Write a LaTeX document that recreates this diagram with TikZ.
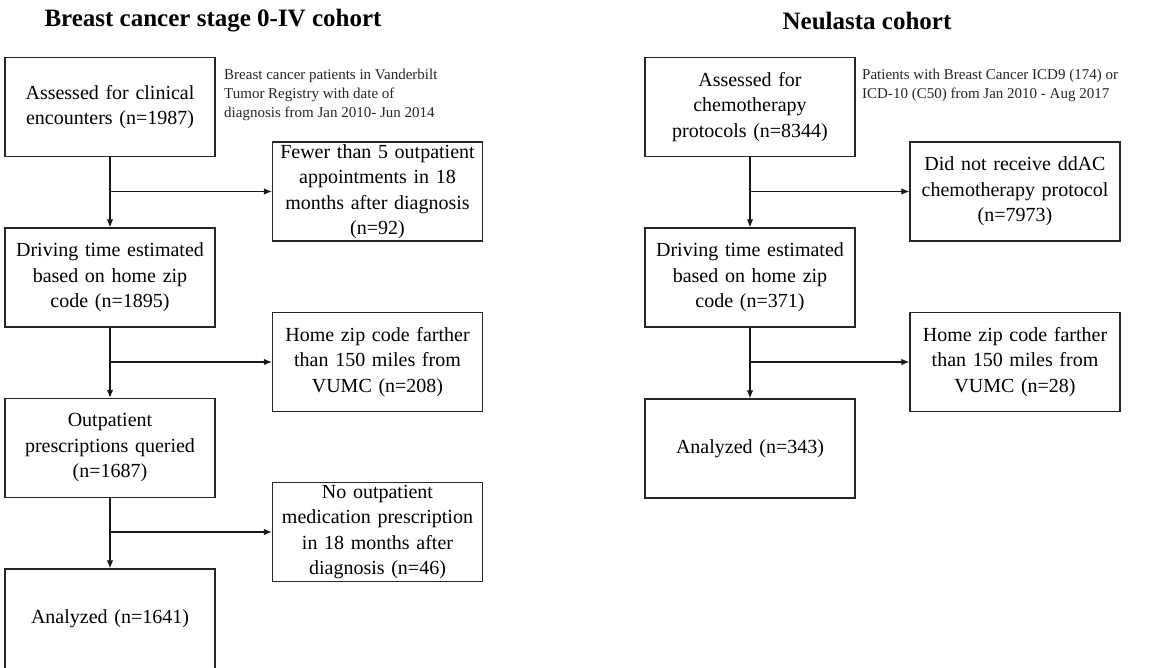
\documentclass[tikz,border=0pt]{standalone}
\usepackage{fontspec}
\setmainfont{Liberation Serif}
\usetikzlibrary{arrows.meta}
\begin{document}
\begin{tikzpicture}[x=1pt,y=-1pt,
  box/.style={draw=black!85, line width=1.3pt, minimum width=210pt, minimum height=99pt, inner sep=0pt, text width=204pt, align=center, font=\fontsize{20}{25.5}\selectfont},
  note/.style={inner sep=0pt, align=left, anchor=west, font=\fontsize{15}{19}\selectfont, text=black!85},
  ttl/.style={inner sep=0pt, font=\fontsize{25}{30}\selectfont\bfseries},
  arr/.style={line width=1.1pt, black!90, -{Latex[length=8pt,width=6.5pt]}}]
\clip (0,0) rectangle (1165,667);
\fill[white] (0,0) rectangle (1165,667);
\node[ttl] (t1) at (213,21) {Breast cancer stage 0-IV cohort};
\node[ttl] (t2) at (867,21) {Neulasta cohort};

\node[box] (A1) at (110,107) {Assessed for clinical\\ encounters (n=1987)};
\node[box] (A2) at (110,277.5) {Driving time estimated\\ based on home zip\\ code (n=1895)};
\node[box] (A3) at (110,448) {Outpatient\\ prescriptions queried\\ (n=1687)};
\node[box, minimum height=112pt] (A4) at (110,625) {\raisebox{16pt}{Analyzed (n=1641)}};
\node[box] (B1) at (377.5,191.5) {Fewer than 5 outpatient\\ appointments in 18\\ months after diagnosis\\ (n=92)};
\node[box] (B2) at (377.5,362) {Home zip code farther\\ than 150 miles from\\ VUMC (n=208)};
\node[box] (B3) at (377.5,532) {No outpatient\\ medication prescription\\ in 18 months after\\ diagnosis (n=46)};
\node[note] (n1) at (224,95) {Breast cancer patients in Vanderbilt\\ Tumor Registry with date of\\ diagnosis from Jan 2010- Jun 2014};

\node[box] (C1) at (750,107) {Assessed for\\ chemotherapy\\ protocols (n=8344)};
\node[box] (C2) at (750,277.5) {Driving time estimated\\ based on home zip\\ code (n=371)};
\node[box] (C3) at (750,448.5) {Analyzed (n=343)};
\node[box] (D1) at (1015,191.5) {Did not receive ddAC\\ chemotherapy protocol\\ (n=7973)};
\node[box] (D2) at (1015,362) {Home zip code farther\\ than 150 miles from\\ VUMC (n=28)};
\node[note] (n2) at (862,85.5) {Patients with Breast Cancer ICD9 (174) or\\ ICD-10 (C50) from Jan 2010 - Aug 2017};

\draw[arr] (A1.south) -- (A2.north);
\draw[arr] (A2.south) -- (A3.north);
\draw[arr] (A3.south) -- (A4.north);
\draw[arr] (A1.south |- B1.west) -- (B1.west);
\draw[arr] (A2.south |- B2.west) -- (B2.west);
\draw[arr] (A3.south |- B3.west) -- (B3.west);
\draw[arr] (C1.south) -- (C2.north);
\draw[arr] (C2.south) -- (C3.north);
\draw[arr] (C1.south |- D1.west) -- (D1.west);
\draw[arr] (C2.south |- D2.west) -- (D2.west);
\end{tikzpicture}
\end{document}
